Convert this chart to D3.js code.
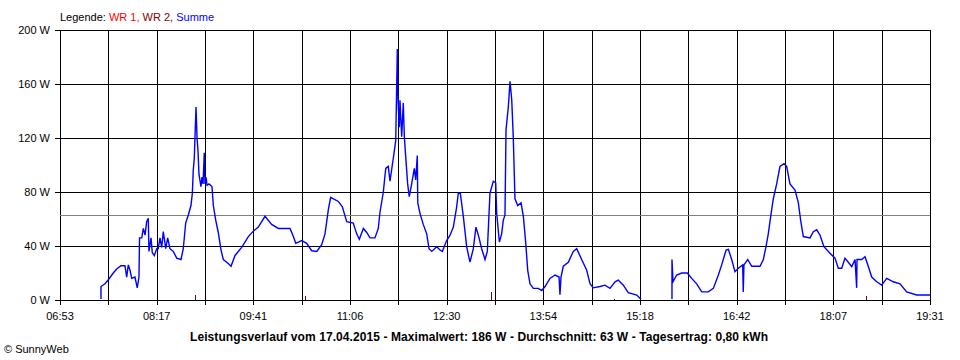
<!DOCTYPE html>
<html><head><meta charset="utf-8">
<script src="https://cdn.jsdelivr.net/npm/d3@7"></script>
<style>
html,body{margin:0;padding:0;background:#fff;}
svg{display:block;font-family:"Liberation Sans",Arial,sans-serif;}
</style></head>
<body><svg id="c" width="960" height="360"></svg>
<script>
// ---- data ----
const legendPrefix = "Legende: ";
const seriesNames = ["WR 1", "WR 2", "Summe"];
const seriesColors = ["#ff0000", "#800000", "#0000ff"];
const timeLabels = ["06:53","08:17","09:41","11:06","12:30","13:54","15:18","16:42","18:07","19:31"];
const yTicks = [0, 40, 80, 120, 160, 200];
const startMinute = 413;   // 06:53
const endMinute = 1171;    // 19:31
const averageWatt = 63;
const titleText = "Leistungsverlauf vom 17.04.2015 - Maximalwert: 186 W - Durchschnitt: 63 W - Tagesertrag: 0,80 kWh";
const creditText = "\u00A9 SunnyWeb";

// Summe: minutes since midnight / watts
const sumMinutes = [448.7,448.7,452.2,455.1,459.4,462.4,466.1,469.6,471.1,472.5,474.0,475.5,478.3,480.3,481.8,482.3,484.2,485.6,487.1,488.5,489.9,490.5,492.3,493.4,495.2,497.3,498.6,500.1,501.6,503.0,505.1,506.8,508.8,511.7,514.7,518.4,520.4,522.5,524.8,527.1,528.3,529.1,530.0,530.6,531.5,532.4,533.2,534.1,535.8,536.7,537.6,538.7,539.3,540.2,541.1,542.8,545.4,546.6,548.7,550.9,553.3,555.3,559.6,562.0,565.5,571.3,577.1,581.4,585.8,591.6,597.4,603.2,613.4,616.3,618.4,623.6,627.9,632.3,636.7,641.0,643.9,646.8,648.8,655.5,659.0,662.8,668.5,671.5,673.8,677.3,680.2,683.1,687.4,690.3,691.8,694.7,696.8,699.0,700.5,703.4,705.5,706.9,707.5,708.6,709.2,710.7,712.1,713.0,714.2,715.9,717.3,719.4,721.7,722.9,724.3,724.7,726.7,729.5,732.5,734.5,736.9,741.2,744.1,746.1,749.9,752.8,755.7,758.6,760.0,761.8,764.4,767.3,770.2,773.1,775.4,777.5,780.4,783.3,785.3,787.6,790.5,792.6,793.5,795.8,797.8,799.2,800.7,801.6,803.6,805.1,806.6,807.9,809.4,811.8,814.7,816.7,818.8,820.5,822.5,825.4,829.7,832.7,835.6,839.9,844.3,847.8,848.6,849.5,851.5,855.9,860.2,863.2,867.5,871.9,874.8,877.6,883.5,887.8,892.2,896.6,899.4,903.8,908.1,915.5,919.8,946.2,946.2,947.1,950.3,954.7,959.5,963.4,967.7,972.1,977.8,982.2,986.6,989.5,993.3,995.3,998.2,1001.1,1004.0,1007.8,1008.3,1008.9,1012.2,1015.7,1022.9,1025.8,1028.1,1030.1,1032.2,1034.5,1037.4,1040.3,1043.8,1046.1,1049.0,1053.4,1056.3,1058.3,1060.6,1066.5,1069.3,1072.3,1075.2,1078.6,1083.9,1088.2,1091.1,1094.1,1096.9,1099.8,1102.8,1105.7,1107.1,1107.4,1111.5,1114.4,1117.2,1120.2,1124.6,1128.9,1133.3,1139.0,1144.9,1150.7,1159.4,1171];
const sumWatts = [0,10,12,15,20,23,25.4,25.4,17,26,22,16,17,9,17,46,46,53,48,58,60.5,36,46,35,33,38,38,46,39,50.6,38,46,38,36,31,30,38,57,63,70,79,96,105,120,143,120,111,93,84,91,86,109,86,91,85,86,84,70,59,50,37,30,27,25,33,39,47,51,54,62,56,53,53,47,42,44,42,36.5,36,41,49,67,76,73,69,58,57,49,45,53,50,46,46,53,65,80,97.5,99,88,105,118,186,148,128,148,121,146,121,106,86,76.5,86,97.5,89,107,72,64,56,49,38,36,39.5,37,36,44,48,54,69,79,79,62,39.5,28,38,54,48,38,30,36,79,88,87,64,43,49,59,63,126,143,162,148,121,75,70,72,62,42,22,12,8.6,8.6,7,10,16,18.5,17,4,17,25,28,36,38,30,22,12,9,10,11,8.6,13.5,14.8,11,5.4,3.7,0,0,30,13.5,18.5,20,20,16,12,6,6,8.6,18.5,26,37,37.5,30,21,23.5,26,6,26,30,25,25,30,39.5,49,62,75,86,99,101,99,86,81.5,72,59,47,46,50.6,52,48,39.5,34.6,31,23.5,23.5,31,28,24.7,30,9,30,30,32,25,17,13.5,11,16,13.5,12,6,3.7,3.7];

// WR 2: short readings near zero
const wr2Minutes = [530.6, 626.5, 788.2, 895.7, 1115.0];
const wr2Watts = [3.7, 3, 6, 1, 3];

// ---- layout ----
const svg = d3.select("#c");
const L = 60, R = 930, T = 30, B = 300;
const x = d3.scaleLinear().domain([startMinute, endMinute]).range([L, R]);
const y = d3.scaleLinear().domain([0, 200]).range([B, T]);

svg.append("defs").append("clipPath").attr("id", "plotClip")
  .append("rect").attr("x", L).attr("y", 0).attr("width", R - L + 1).attr("height", B - 1);

// vertical grid (18 intervals), labels every other
const nGrid = 18;
const gridMinutes = d3.range(nGrid + 1).map(i => startMinute + i * (endMinute - startMinute) / nGrid);
const g = svg.append("g").attr("shape-rendering", "crispEdges");
g.selectAll("line.v").data(gridMinutes).join("line")
  .attr("x1", d => Math.round(x(d)) + 0.5).attr("x2", d => Math.round(x(d)) + 0.5)
  .attr("y1", T).attr("y2", B + 5).attr("stroke", "#000");
g.selectAll("line.h").data(yTicks).join("line")
  .attr("x1", L - 5).attr("x2", R)
  .attr("y1", d => Math.round(y(d)) + 0.5).attr("y2", d => Math.round(y(d)) + 0.5)
  .attr("stroke", "#000");
// average line
g.append("line").attr("x1", L).attr("x2", R)
  .attr("y1", Math.round(y(averageWatt)) + 0.5).attr("y2", Math.round(y(averageWatt)) + 0.5)
  .attr("stroke", "#808080");

// y labels
svg.append("g").selectAll("text").data(yTicks).join("text")
  .attr("x", L - 10).attr("y", d => y(d) + 4)
  .attr("text-anchor", "end").attr("font-size", 11).attr("fill", "#000")
  .text(d => d + " W");

// x labels
svg.append("g").selectAll("text").data(timeLabels).join("text")
  .attr("x", (d, i) => x(gridMinutes[i * 2]))
  .attr("y", 320).attr("text-anchor", "middle").attr("font-size", 11).attr("fill", "#000")
  .text(d => d);

// Summe line
const sumData = sumMinutes.map((m, i) => [m, sumWatts[i]]);
svg.append("path").datum(sumData)
  .attr("clip-path", "url(#plotClip)")
  .attr("fill", "none").attr("stroke", seriesColors[2]).attr("stroke-width", 1.4)
  .attr("stroke-linejoin", "miter")
  .attr("d", d3.line().x(d => x(d[0])).y(d => y(d[1])));

// WR 2 marks
svg.append("g").selectAll("line").data(wr2Minutes.map((m, i) => [m, wr2Watts[i]])).join("line")
  .attr("shape-rendering", "crispEdges")
  .attr("x1", d => Math.round(x(d[0])) + 0.5).attr("x2", d => Math.round(x(d[0])) + 0.5)
  .attr("y1", B).attr("y2", d => y(d[1]))
  .attr("stroke", seriesColors[1]).attr("stroke-width", 1.5);

// legend
const leg = svg.append("text").attr("x", L).attr("y", 21).attr("font-size", 11);
leg.append("tspan").attr("fill", "#000").text(legendPrefix);
seriesNames.forEach((n, i) => {
  leg.append("tspan").attr("fill", seriesColors[i]).text(n + (i < seriesNames.length - 1 ? ", " : ""));
});

// title & credit
svg.append("text").attr("x", 479).attr("y", 341).attr("text-anchor", "middle")
  .attr("font-size", 12).attr("font-weight", "bold").attr("fill", "#000")
  .attr("textLength", 578).attr("lengthAdjust", "spacing").text(titleText);
svg.append("text").attr("x", 4).attr("y", 353).attr("font-size", 11).attr("fill", "#000").text(creditText);
</script>
</body></html>
